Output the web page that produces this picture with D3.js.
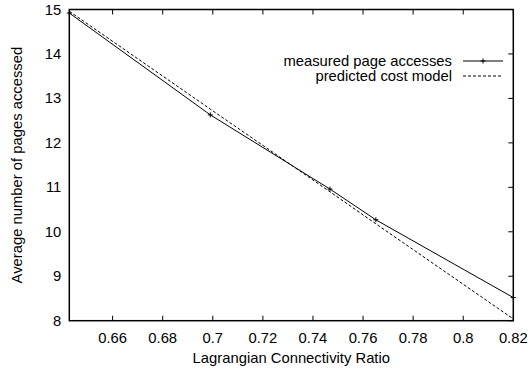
<!DOCTYPE html>
<meta charset="utf-8">
<style>
body { margin: 0; background: #fff; }
text { font-family: "Liberation Sans", Arial, sans-serif; font-size: 14.8px; fill: #000; }
.frame { fill: none; stroke: #000; stroke-width: 1.5; }
.tick { stroke: #000; stroke-width: 1; }
</style>
<body>
<div id="chart"></div>
<script src="https://cdnjs.cloudflare.com/ajax/libs/d3/7.8.5/d3.min.js"></script>
<script>

// données
var ratio = [0.6427, 0.699, 0.7468, 0.7651, 0.82];
var measured = [14.92, 12.63, 10.96, 10.27, 8.52];
var predicted = [14.96, 12.76, 10.90, 10.18, 8.04];
var xTicks = [0.66, 0.68, 0.7, 0.72, 0.74, 0.76, 0.78, 0.8, 0.82];
var yTicks = [8, 9, 10, 11, 12, 13, 14, 15];

var largeur = 530, hauteur = 369;
var margin = {top: 9.5, right: 16.7, bottom: 48.3, left: 69.3};

var svg = d3.select("#chart").append("svg")
    .attr("width", largeur)
    .attr("height", hauteur);

var x = d3.scaleLinear()
    .domain([0.6427, 0.82])
    .range([margin.left, largeur - margin.right]);
var y = d3.scaleLinear()
    .domain([8, 15])
    .range([hauteur - margin.bottom, margin.top]);

var tk = 5;

// ticks bas + haut (vers l'intérieur)
xTicks.forEach(function(t) {
    svg.append("line").attr("class", "tick")
        .attr("x1", x(t)).attr("x2", x(t))
        .attr("y1", y(8)).attr("y2", y(8) - tk);
    svg.append("line").attr("class", "tick")
        .attr("x1", x(t)).attr("x2", x(t))
        .attr("y1", y(15)).attr("y2", y(15) + tk);
    svg.append("text")
        .attr("x", x(t)).attr("y", y(8) + 22)
        .attr("text-anchor", "middle")
        .text(d3.format("")(t));
});

// ticks droite + labels gauche
yTicks.forEach(function(t) {
    svg.append("line").attr("class", "tick")
        .attr("x1", x(0.82)).attr("x2", x(0.82) - tk)
        .attr("y1", y(t)).attr("y2", y(t));
    svg.append("text")
        .attr("x", margin.left - 8).attr("y", y(t) + 5)
        .attr("text-anchor", "end")
        .text(t);
});

svg.append("rect").attr("class", "frame")
    .attr("x", margin.left).attr("y", margin.top)
    .attr("width", largeur - margin.left - margin.right)
    .attr("height", hauteur - margin.top - margin.bottom);

// titres des axes
svg.append("text")
    .attr("x", (margin.left + largeur - margin.right) / 2)
    .attr("y", 363)
    .attr("text-anchor", "middle")
    .text("Lagrangian Connectivity Ratio");
svg.append("text")
    .attr("transform", "translate(22," + ((margin.top + hauteur - margin.bottom) / 2) + ") rotate(-90)")
    .attr("text-anchor", "middle")
    .text("Average number of pages accessed");

var line = d3.line()
    .x(function(d) { return x(d[0]); })
    .y(function(d) { return y(d[1]); });

svg.append("path")
    .datum(d3.zip(ratio, predicted))
    .attr("fill", "none").attr("stroke", "#000").attr("stroke-width", 1)
    .attr("stroke-dasharray", "3,2")
    .attr("d", line);

svg.append("path")
    .datum(d3.zip(ratio, measured))
    .attr("fill", "none").attr("stroke", "#000").attr("stroke-width", 1)
    .attr("d", line);

function plus(cx, cy) {
    svg.append("path")
        .attr("d", "M" + (cx - 2.5) + "," + cy + "H" + (cx + 2.5) + "M" + cx + "," + (cy - 2.5) + "V" + (cy + 2.5))
        .attr("stroke", "#000").attr("stroke-width", 1);
}
d3.zip(ratio, measured).forEach(function(d) { plus(x(d[0]), y(d[1])); });

// légende
var lx1 = 463, lx2 = 503;
svg.append("text").attr("x", 452).attr("y", 66).attr("text-anchor", "end").text("measured page accesses");
svg.append("line").attr("x1", lx1).attr("x2", lx2).attr("y1", 61).attr("y2", 61)
    .attr("stroke", "#000").attr("stroke-width", 1);
plus((lx1 + lx2) / 2, 61);
svg.append("text").attr("x", 452).attr("y", 81).attr("text-anchor", "end").text("predicted cost model");
svg.append("line").attr("x1", lx1).attr("x2", lx2).attr("y1", 76).attr("y2", 76)
    .attr("stroke", "#000").attr("stroke-width", 1).attr("stroke-dasharray", "3,2");

</script>
</body>
